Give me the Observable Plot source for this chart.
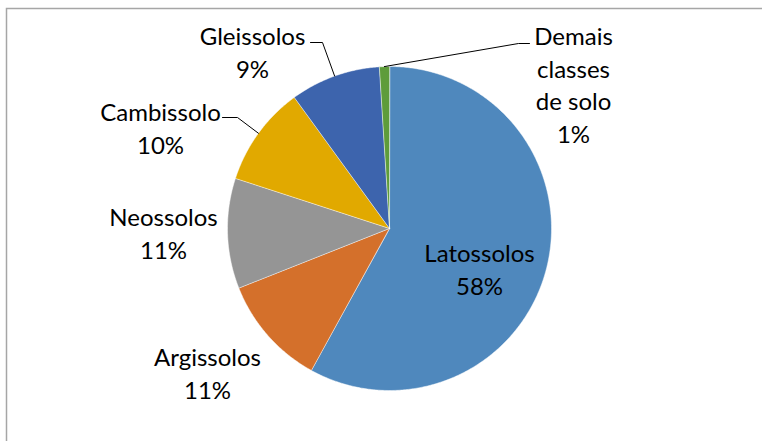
<!DOCTYPE html>
<html>
<head>
<meta charset="utf-8">
<script src="https://cdn.jsdelivr.net/npm/d3@7"></script>
<script src="https://cdn.jsdelivr.net/npm/@observablehq/plot@0.6"></script>
<style>
  html, body { margin: 0; padding: 0; background: #fff; overflow: hidden; }
  #chart svg { overflow: hidden; }
</style>
</head>
<body>
<div id="chart"></div>
<script>
// ---- data ----
const categories = ["Latossolos", "Argissolos", "Neossolos", "Cambissolo", "Gleissolos", "Demais classes de solo"];
const values = [58, 11, 11, 10, 9, 1];
const labelLines = [
  ["Latossolos", "58%"],
  ["Argissolos", "11%"],
  ["Neossolos", "11%"],
  ["Cambissolo", "10%"],
  ["Gleissolos", "9%"],
  ["Demais", "classes", "de solo", "1%"]
];
const colors = ["#4F88BD", "#D4702B", "#959595", "#E1A900", "#3D64AD", "#5E9C3A"];

// ---- layout (radius units = pixels of the pie) ----
const R = 162;
// label anchor: x centre, y of the last baseline, relative to the pie centre (y downwards)
const labelPos = [[90, 66], [-182, 170], [-226, 30], [-229, -75], [-137, -151], [184, -86]];
// leader lines: [horizontal start, elbow] for slices that have them
const leaderPos = {3: [[-167, -111], [-152, -111]], 4: [[-79, -186], [-67, -186]], 5: [[140, -185], [129, -185]]};

const arcs = d3.pie().sort(null).value(d => d)(values);
const pt = (a, r) => ({x: Math.sin(a) * r, y: -Math.cos(a) * r});

const slices = [];
arcs.forEach((a, i) => {
  slices.push({name: categories[i], ...pt(0, 0)});
  const n = Math.max(2, Math.ceil((a.endAngle - a.startAngle) / (Math.PI / 360)));
  for (let k = 0; k <= n; k++) {
    const ang = a.startAngle + (a.endAngle - a.startAngle) * k / n;
    slices.push({name: categories[i], ...pt(ang, R)});
  }
});

const leaders = [];
Object.entries(leaderPos).forEach(([i, pts]) => {
  const a = arcs[i];
  const mid = pt((a.startAngle + a.endAngle) / 2, R);
  pts.forEach(p => leaders.push({name: categories[i], x: p[0], y: p[1]}));
  leaders.push({name: categories[i], ...mid});
});

const labels = categories.map((c, i) => ({
  name: c, text: labelLines[i].join("\n"), x: labelPos[i][0], y: labelPos[i][1]
}));

const chart = Plot.plot({
  width: 762,
  height: 441,
  marginLeft: 227,
  marginRight: 211,
  marginTop: 66,
  marginBottom: 51,
  x: {domain: [-R, R], axis: null},
  y: {domain: [-R, R], reverse: true, axis: null},
  color: {domain: categories, range: colors},
  style: {fontFamily: "Lato, 'Open Sans', sans-serif", background: "#fff", overflow: "hidden"},
  marks: [
    Plot.frame({stroke: "#a6a6a6", strokeWidth: 1.5, insetLeft: -221, insetTop: -58, insetRight: -230, insetBottom: -80}),
    Plot.line(slices, {x: "x", y: "y", z: "name", fill: "name", stroke: "#ffffff", strokeWidth: 0.6, strokeOpacity: 0.8, curve: "linear-closed"}),
    Plot.line(leaders, {x: "x", y: "y", z: "name", stroke: "#000", strokeWidth: 1}),
    Plot.text(labels, {x: "x", y: "y", text: "text", lineAnchor: "bottom", lineHeight: 1.35, fontSize: 24, fill: "#000", textAnchor: "middle"})
  ]
});
document.getElementById("chart").appendChild(chart);
</script>
</body>
</html>
